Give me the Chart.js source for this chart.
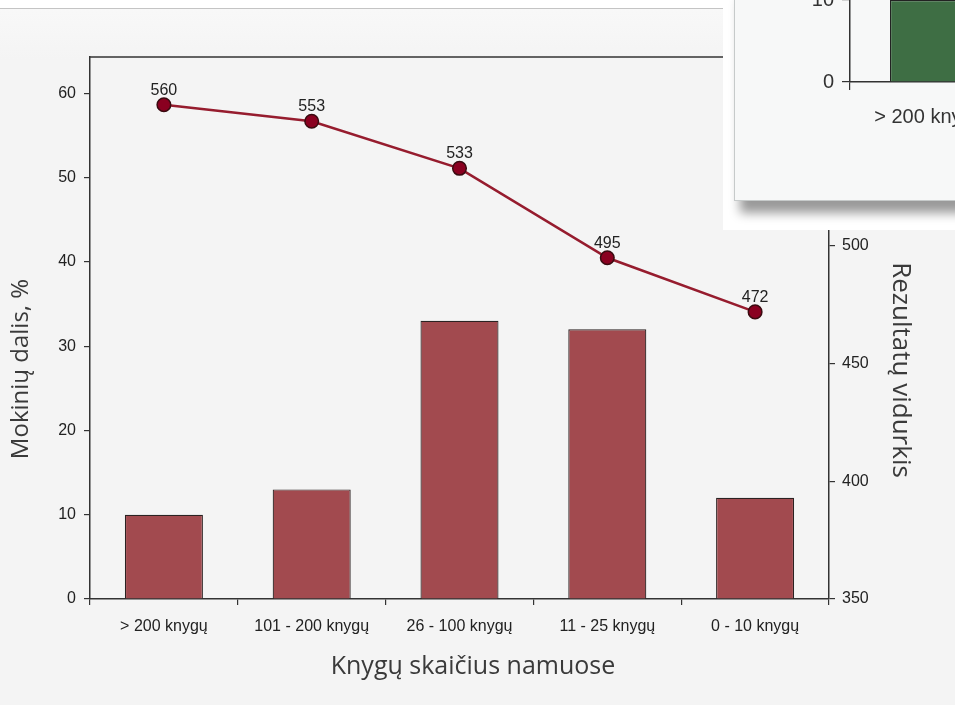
<!DOCTYPE html>
<html>
<head>
<meta charset="utf-8">
<script src="https://cdn.jsdelivr.net/npm/chart.js@4.4.1/dist/chart.umd.min.js"></script>
<style>
  html, body { margin: 0; padding: 0; width: 955px; height: 705px; overflow: hidden; background: #f4f4f4; }
  #topfade { position: absolute; left: 0; top: 0; width: 955px; height: 60px; background: linear-gradient(#f9f9f9, #f4f4f4); }
  #strip { position: absolute; left: 0; top: 0; width: 955px; height: 8px; background: #fff; border-bottom: 1px solid #c4c4c4; }
  #main { position: absolute; left: 0; top: 0; }
  #pop { position: absolute; left: 723px; top: 0; width: 232px; height: 230px; background: #fff; overflow: hidden; }
  #panel { position: absolute; left: 11px; top: -12px; width: 240px; height: 213px; box-sizing: border-box;
           background: #f7f8f8; border: 1px solid #c6caca; box-shadow: 6px 12px 10px rgba(0,0,0,0.4); overflow: hidden; }
  #mini { position: absolute; left: 25px; top: -109px; }
</style>
</head>
<body>
<div id="topfade"></div>
<div id="strip"></div>
<canvas id="main" width="955" height="705"></canvas>
<div id="pop">
  <div id="panel">
    <canvas id="mini" width="248" height="252"></canvas>
  </div>
</div>
<script>
// data
const categories = ['> 200 knygų', '101 - 200 knygų', '26 - 100 knygų', '11 - 25 knygų', '0 - 10 knygų'];
const shareValues = [10, 13, 33, 32, 12];        // Mokinių dalis, %
const scoreValues = [560, 553, 533, 495, 472];   // Rezultatų vidurkis
const leftTicks = [0, 10, 20, 30, 40, 50, 60];
const rightTicks = [350, 400, 450, 500, 550];

const xTitle = 'Knygų skaičius namuose';
const yTitle = 'Mokinių dalis, %';
const y1Title = 'Rezultatų vidurkis';

// the popup chart that covers the top right corner
const miniCategories = ['> 200 knygų'];
const miniValues = [10];
const miniTicks = [0, 10, 20];

const tickFont = { family: 'Liberation Sans, Arial, sans-serif', size: 16 };
const axisGrid = { display: true, drawOnChartArea: false, drawTicks: true, tickLength: 6, color: '#333', lineWidth: 1.2 };
const axisBorder = { display: true, color: '#333', width: 1.5 };

const titles = {
  id: 'titles',
  afterDraw(chart) {
    const ctx = chart.ctx;
    const a = chart.chartArea;
    ctx.save();
    ctx.strokeStyle = '#333';
    ctx.lineWidth = 1.5;
    ctx.beginPath();
    ctx.moveTo(a.left, a.top);
    ctx.lineTo(a.right, a.top);
    ctx.stroke();

    ctx.fillStyle = '#3a3a3a';
    ctx.textAlign = 'center';
    ctx.textBaseline = 'middle';
    ctx.font = '25px "Open Sans", sans-serif';
    ctx.fillText(xTitle, 473, 667);

    ctx.save();
    ctx.font = '24px "Open Sans", sans-serif';
    ctx.translate(21, 369);
    ctx.rotate(-Math.PI / 2);
    ctx.fillText(yTitle, 0, 0);
    ctx.restore();

    ctx.save();
    ctx.font = '26px "Open Sans", sans-serif';
    ctx.translate(900, 370);
    ctx.rotate(Math.PI / 2);
    ctx.fillText(y1Title, 0, 0);
    ctx.restore();
    ctx.restore();
  }
};

const pointLabels = {
  id: 'pointLabels',
  afterDatasetsDraw(chart) {
    const ctx = chart.ctx;
    const meta = chart.getDatasetMeta(1);
    ctx.save();
    ctx.fillStyle = '#222';
    ctx.font = '16px "Liberation Sans", Arial, sans-serif';
    ctx.textAlign = 'center';
    ctx.textBaseline = 'alphabetic';
    meta.data.forEach((pt, i) => {
      ctx.fillText(String(scoreValues[i]), pt.x, pt.y - 10);
    });
    ctx.restore();
  }
};

new Chart(document.getElementById('main'), {
  data: {
    labels: categories,
    datasets: [
      {
        type: 'bar',
        data: shareValues,
        yAxisID: 'y',
        backgroundColor: '#a24a4f',
        borderColor: '#2b2222',
        borderWidth: 1.2,
        categoryPercentage: 1,
        barPercentage: 0.528,
        order: 2
      },
      {
        type: 'line',
        data: scoreValues,
        yAxisID: 'y1',
        borderColor: '#961c2e',
        borderWidth: 2.6,
        tension: 0,
        pointRadius: 6.8,
        pointBackgroundColor: '#8a0020',
        pointBorderColor: '#3a0a10',
        pointBorderWidth: 1.5,
        order: 1
      }
    ]
  },
  options: {
    responsive: false,
    animation: false,
    layout: { padding: { top: 57, left: 0, right: 0, bottom: 0 } },
    plugins: { legend: { display: false }, tooltip: { enabled: false } },
    scales: {
      x: {
        offset: true,
        grid: { ...axisGrid, offset: true },
        border: axisBorder,
        ticks: { font: tickFont, color: '#222', padding: 12, maxRotation: 0, autoSkip: false },
        afterFit(s) { s.height = 106; }
      },
      y: {
        position: 'left',
        min: 0,
        max: 64.3,
        grid: axisGrid,
        border: axisBorder,
        ticks: { font: tickFont, color: '#222', padding: 8 },
        afterBuildTicks(s) { s.ticks = leftTicks.map(v => ({ value: v })); },
        afterFit(s) { s.width = 90; }
      },
      y1: {
        position: 'right',
        min: 350,
        max: 580.3,
        grid: axisGrid,
        border: axisBorder,
        ticks: { font: tickFont, color: '#222', padding: 7 },
        afterBuildTicks(s) { s.ticks = rightTicks.map(v => ({ value: v })); },
        afterFit(s) { s.width = 126; }
      }
    }
  },
  plugins: [titles, pointLabels]
});

const miniFont = { family: 'Liberation Sans, Arial, sans-serif', size: 20 };
new Chart(document.getElementById('mini'), {
  type: 'bar',
  data: {
    labels: miniCategories,
    datasets: [{
      data: miniValues,
      backgroundColor: '#3e6e44',
      borderColor: '#222',
      borderWidth: 1.2,
      categoryPercentage: 1,
      barPercentage: 0.494
    }]
  },
  options: {
    responsive: false,
    animation: false,
    layout: { padding: 0 },
    plugins: { legend: { display: false }, tooltip: { enabled: false } },
    scales: {
      x: {
        offset: true,
        grid: { ...axisGrid, offset: true, tickLength: 8 },
        border: axisBorder,
        ticks: { font: miniFont, color: '#333', padding: 15, maxRotation: 0 },
        afterFit(s) { s.height = 50; }
      },
      y: {
        min: 0,
        max: 22.2,
        grid: { ...axisGrid, tickLength: 8 },
        border: axisBorder,
        ticks: { font: miniFont, color: '#333', padding: 8 },
        afterBuildTicks(s) { s.ticks = miniTicks.map(v => ({ value: v })); },
        afterFit(s) { s.width = 90; }
      }
    }
  }
});
</script>
</body>
</html>
